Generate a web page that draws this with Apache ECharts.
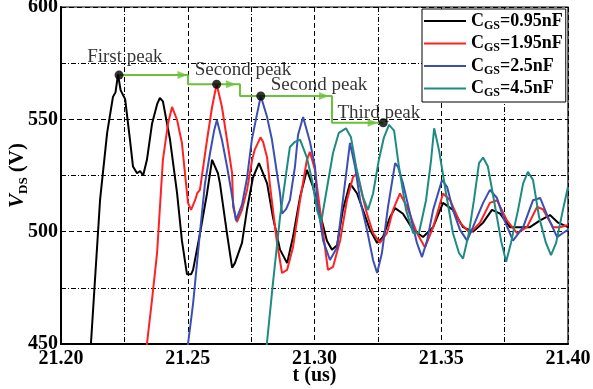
<!DOCTYPE html>
<html>
<head>
<meta charset="utf-8">
<script src="https://cdn.jsdelivr.net/npm/echarts@6/dist/echarts.min.js"></script>
<style>html,body{margin:0;padding:0;background:#fff}#c{width:593px;height:389px}</style>
</head>
<body>
<div id="c"></div>
<script>
const xTicks = [21.20, 21.25, 21.30, 21.35, 21.40];
const yTicks = [450, 500, 550, 600];
const seriesNames = ['C_GS=0.95nF', 'C_GS=1.95nF', 'C_GS=2.5nF', 'C_GS=4.5nF'];
const legendLabels = ['=0.95nF', '=1.95nF', '=2.5nF', '=4.5nF'];
const seriesColors = ['#000000', '#ff2222', '#3b4fb2', '#1f8a82'];

const black = [[21.2110,445],[21.2118,450],[21.2154,514],[21.2182,544],[21.2205,560],[21.2215,562],[21.2225,570],[21.2235,563],[21.2253,559],[21.2272,541],[21.2284,529],[21.2300,526],[21.2312,527],[21.2324,525],[21.2339,532],[21.2359,548],[21.2380,557],[21.2390,559.5],[21.2402,558],[21.2430,541],[21.2458,517],[21.2477,496],[21.2497,481],[21.2513,481],[21.2521,483],[21.2548,499],[21.2576,517],[21.2596,532],[21.2619,526],[21.2627,521.5],[21.2655,499],[21.2675,484],[21.2686,486],[21.2714,495],[21.2734,510],[21.2757,524],[21.2781,530.5],[21.2813,521.5],[21.2836,506.5],[21.2864,492],[21.2892,486],[21.2915,497.6],[21.2943,515.4],[21.2970,527.5],[21.2994,520],[21.3022,508],[21.3049,496],[21.3069,492],[21.3089,494],[21.3112,509.7],[21.3140,521.5],[21.3168,517],[21.3191,509.7],[21.3219,500.8],[21.3247,495],[21.3270,497.6],[21.3298,506.5],[21.3318,510.5],[21.3349,508],[21.3389,500.8],[21.3428,497.6],[21.3468,502],[21.3507,512.8],[21.3546,509.7],[21.3586,502],[21.3625,500],[21.3665,504],[21.3700,509.7],[21.3732,508],[21.3771,502],[21.3811,502],[21.3850,502],[21.3890,505],[21.3929,507.4],[21.3961,504],[21.4000,502]];

const red = [[21.2335,445],[21.2339,450],[21.2359,469.6],[21.2379,490.5],[21.2402,532],[21.2422,548],[21.2438,555.5],[21.2458,549.7],[21.2477,539.5],[21.2489,526],[21.2501,512.8],[21.2513,509.7],[21.2529,514],[21.2537,517],[21.2548,518.6],[21.2576,540.8],[21.2596,555.5],[21.2614,565.7],[21.2635,555.5],[21.2655,540.8],[21.2675,526],[21.2679,511],[21.2694,504.3],[21.2714,509.7],[21.2734,518.6],[21.2754,532],[21.2764,536.4],[21.2787,542],[21.2797,540],[21.2813,533],[21.2825,520],[21.2852,495],[21.2872,481.6],[21.2892,483],[21.2915,493],[21.2943,514],[21.2970,532],[21.2982,535.5],[21.3002,527.5],[21.3010,520],[21.3034,499.4],[21.3053,483],[21.3073,484.3],[21.3101,496],[21.3128,514],[21.3152,524.3],[21.3168,526],[21.3187,517],[21.3207,508],[21.3231,499.4],[21.3258,495],[21.3286,499.4],[21.3310,509.7],[21.3337,517],[21.3365,511],[21.3404,499.4],[21.3436,493],[21.3468,502],[21.3507,517],[21.3535,514],[21.3574,504],[21.3613,499.4],[21.3653,504],[21.3692,512.8],[21.3720,514],[21.3759,505],[21.3799,499.4],[21.3838,502],[21.3878,511],[21.3901,510],[21.3941,502],[21.3968,502],[21.4000,503]];

const blue = [[21.2497,445],[21.2501,450],[21.2521,468],[21.2548,499.4],[21.2568,521.5],[21.2588,535],[21.2604,545],[21.2615,549.7],[21.2635,540.8],[21.2655,529],[21.2671,518.6],[21.2690,505],[21.2714,512],[21.2734,524],[21.2753,541],[21.2769,550],[21.2788,560.4],[21.2813,551],[21.2832,541],[21.2852,526],[21.2864,517],[21.2872,508],[21.2888,510],[21.2903,514],[21.2923,529],[21.2935,543],[21.2955,551],[21.2982,540],[21.3002,529],[21.3010,514],[21.3034,496],[21.3061,487.4],[21.3089,493],[21.3112,514],[21.3140,539.5],[21.3160,529],[21.3180,514],[21.3207,500.8],[21.3231,487.4],[21.3247,481.6],[21.3266,490.5],[21.3290,511],[21.3318,530.5],[21.3329,529],[21.3349,521.5],[21.3377,508],[21.3404,495],[21.3424,488.7],[21.3444,496],[21.3468,509.7],[21.3503,523],[21.3523,520],[21.3546,509.7],[21.3574,500.8],[21.3602,496],[21.3625,502],[21.3665,512.8],[21.3692,518.6],[21.3720,515],[21.3744,506.5],[21.3783,496],[21.3823,502],[21.3862,514],[21.3890,515],[21.3921,506.5],[21.3957,497.6],[21.3980,499.4],[21.4000,500.8]];

const teal = [[21.2804,445],[21.2812,450],[21.2836,477],[21.2864,506.5],[21.2892,529],[21.2903,537.7],[21.2923,540],[21.2943,541],[21.2970,533],[21.2990,523],[21.3010,509.7],[21.3026,504],[21.3041,514],[21.3073,535],[21.3096,544],[21.3124,546],[21.3144,542],[21.3164,529],[21.3191,515.4],[21.3211,509.7],[21.3231,517],[21.3254,532],[21.3274,542],[21.3294,547.5],[21.3314,545],[21.3333,529],[21.3361,509.7],[21.3389,499.4],[21.3412,499.4],[21.3440,514],[21.3460,532],[21.3472,546],[21.3491,536.4],[21.3519,517],[21.3546,499.4],[21.3570,490.5],[21.3586,488],[21.3609,499.4],[21.3629,514],[21.3649,530.5],[21.3665,533],[21.3684,529],[21.3708,514],[21.3736,496],[21.3756,486.6],[21.3775,495],[21.3803,509.7],[21.3823,521.5],[21.3842,526.6],[21.3862,523],[21.3886,506.5],[21.3913,495],[21.3933,489.6],[21.3953,495],[21.3980,509.7],[21.4000,520]];

const peakDots = [[21.2229,569.7],[21.2614,565.6],[21.2788,560.4],[21.3271,548.5]];
const stepPath = [[21.2229,569.7],[21.2501,569.7],[21.2501,565.6],[21.2706,565.6],[21.2706,560.4],[21.3069,560.4],[21.3069,548.5],[21.3271,548.5]];
const arrowTips = [[21.2499,569.7],[21.2690,565.6],[21.3057,560.4],[21.3249,548.5]];
const peakLabels = ['First peak', 'Second peak', 'Second peak', 'Third peak'];
const peakLabelPos = [[21.2252,577.7],[21.2718,572.0],[21.3018,565.3],[21.3254,552.8]];

const FONT = 'Liberation Serif';
const chart = echarts.init(document.getElementById('c'), null, {renderer: 'canvas'});

const curveSeries = [black, red, blue, teal].map((d, i) => ({
  name: seriesNames[i], type: 'line', data: d, showSymbol: false, symbol: 'none',
  lineStyle: {color: seriesColors[i], width: 2}, itemStyle: {color: seriesColors[i]},
  z: 2 + i, clip: true, animation: false
}));

const legendMap = {};
seriesNames.forEach((n, i) => legendMap[n] = '{m|C}{s|GS}{m|' + legendLabels[i] + '}');

const option = {
  animation: false,
  backgroundColor: '#fff',
  grid: {left: 61, right: 25, top: 7, bottom: 45, show: true, borderColor: '#000', borderWidth: 1.2,
         outerBoundsMode: 'none', containLabel: false},
  legend: {
    data: seriesNames, orient: 'vertical', left: 422, top: 9,
    backgroundColor: '#fff', borderColor: '#000', borderWidth: 1,
    padding: [3, 3, 3, 2], itemGap: 3, itemWidth: 42, itemHeight: 2, icon: 'rect',
    formatter: n => legendMap[n],
    textStyle: {
      fontFamily: FONT, fontWeight: 'bold', fontSize: 18, color: '#000',
      rich: {
        m: {fontFamily: FONT, fontWeight: 'bold', fontSize: 18, lineHeight: 21, color: '#000'},
        s: {fontFamily: FONT, fontWeight: 'bold', fontSize: 12, lineHeight: 21, color: '#000', verticalAlign: 'bottom'}
      }
    }
  },
  xAxis: {
    type: 'value', min: xTicks[0], max: xTicks[xTicks.length - 1], interval: 0.05,
    name: 't (us)', nameLocation: 'middle', nameGap: 22, nameMoveOverlap: false,
    nameTextStyle: {fontFamily: FONT, fontWeight: 'bold', fontSize: 20, color: '#000'},
    axisLine: {show: true, lineStyle: {color: '#000', width: 2}},
    axisTick: {show: false},
    minorTick: {show: false, splitNumber: 2},
    axisLabel: {fontFamily: FONT, fontWeight: 'bold', fontSize: 20, color: '#000', margin: 5, formatter: v => v.toFixed(2)},
    splitLine: {show: true, lineStyle: {color: '#000', width: 1, type: [5, 3]}},
    minorSplitLine: {show: true, lineStyle: {color: '#000', width: 1, type: [5, 2, 1, 2]}}
  },
  yAxis: {
    type: 'value', min: yTicks[0], max: yTicks[yTicks.length - 1], interval: 50,
    name: '{i|V}{s|DS}{b| (V)}', nameLocation: 'middle', nameGap: 31, nameRotate: 90, nameMoveOverlap: false,
    nameTextStyle: {
      fontFamily: FONT, color: '#000',
      rich: {
        i: {fontFamily: FONT, fontStyle: 'italic', fontWeight: 'bold', fontSize: 21, lineHeight: 24, color: '#000'},
        s: {fontFamily: FONT, fontWeight: 'bold', fontSize: 13, lineHeight: 24, verticalAlign: 'bottom', color: '#000'},
        b: {fontFamily: FONT, fontWeight: 'bold', fontSize: 21, lineHeight: 24, color: '#000'}
      }
    },
    axisLine: {show: true, lineStyle: {color: '#000', width: 2}},
    axisTick: {show: false},
    minorTick: {show: false, splitNumber: 2},
    axisLabel: {fontFamily: FONT, fontWeight: 'bold', fontSize: 20, color: '#000', margin: 3, formatter: v => String(v)},
    splitLine: {show: true, lineStyle: {color: '#000', width: 1, type: [5, 3]}},
    minorSplitLine: {show: true, lineStyle: {color: '#000', width: 1, type: [5, 2, 1, 2]}}
  },
  series: curveSeries.concat([
    {
      name: 'steps', type: 'line', data: stepPath, showSymbol: false, symbol: 'none',
      lineStyle: {color: '#6cc13c', width: 2}, z: 10, clip: false
    },
    {
      name: 'arrows', type: 'scatter', data: arrowTips, symbol: 'triangle', symbolSize: [8, 10],
      symbolRotate: -90, symbolOffset: [-5, 0], itemStyle: {color: '#6cc13c'}, z: 11
    },
    {
      name: 'peaks', type: 'scatter', data: peakDots, symbol: 'circle', symbolSize: 9,
      itemStyle: {color: '#000'}, z: 12
    },
    {
      name: 'labels', type: 'scatter', symbolSize: 1, itemStyle: {color: 'rgba(0,0,0,0)'}, z: 13,
      data: peakLabelPos.map((p, i) => ({value: p, name: peakLabels[i]})),
      label: {show: true, position: 'inside', formatter: p => p.name, fontFamily: FONT, fontSize: 19, color: '#000'}
    }
  ])
};
chart.setOption(option);
</script>
</body>
</html>
